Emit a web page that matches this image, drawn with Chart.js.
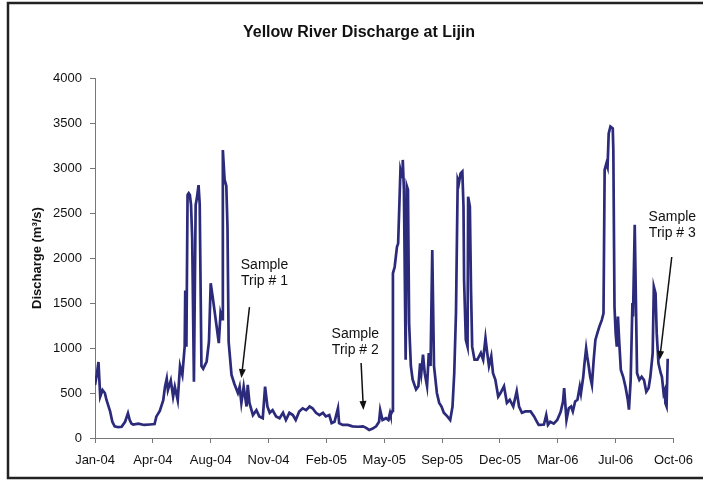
<!DOCTYPE html>
<html>
<head>
<meta charset="utf-8">
<script src="https://cdn.jsdelivr.net/npm/chart.js@4/dist/chart.umd.min.js"></script>
<style>
  html, body { margin: 0; padding: 0; background: #fff; }
  canvas { display: block; }
</style>
</head>
<body>
<canvas id="lijinChart" width="703" height="482"></canvas>
<script>
// x position in axis units (100 units between labelled ticks)
const sampleDay = [
  0, 3, 6, 9, 13, 17, 20, 26, 30, 34, 40, 46, 52, 57, 60, 63, 66, 75, 85, 95,
  103, 106, 112, 118, 121, 124, 126, 131, 135, 138, 143, 147, 151, 155, 156, 158, 160, 162, 164, 166,
  168, 171, 174, 176, 179, 181, 184, 187, 193, 197, 200, 204, 210, 214, 217, 220, 221, 224, 227, 229,
  231, 236, 241, 247, 250, 253, 257, 262, 264, 267, 273, 279, 284, 290, 294, 298, 302, 307, 313, 319,
  325, 330, 336, 342, 347, 353, 359, 365, 371, 376, 382, 388, 394, 399, 405, 409, 414, 420, 422, 428,
  437, 445, 454, 463, 468, 474, 480, 486, 491, 493, 497, 503, 507, 510, 511, 514, 515, 518, 522, 524,
  526, 528, 531, 532, 534, 537, 539, 541, 543, 546, 549, 555, 559, 562, 564, 567, 570, 574, 577, 580,
  583, 586, 591, 595, 599, 603, 609, 614, 618, 621, 624, 627, 629, 632, 635, 637, 638, 641, 644, 645,
  648, 650, 652, 656, 661, 667, 671, 675, 678, 681, 685, 688, 692, 697, 701, 707, 712, 717, 723, 729,
  733, 738, 744, 753, 759, 764, 767, 770, 776, 780, 783, 787, 793, 799, 805, 809, 811, 815, 819, 823,
  826, 830, 834, 838, 840, 844, 846, 849, 851, 853, 856, 859, 862, 865, 869, 872, 876, 879, 881, 884,
  886, 888, 891, 895, 896, 898, 900, 902, 904, 906, 909, 913, 917, 921, 923, 926, 929, 930, 933, 935,
  937, 941, 945, 949, 953, 957, 960, 964, 966, 969, 971, 974, 978, 980, 983, 985, 986, 988, 990
];

// discharge in m3/s
const discharge = [
  590, 700, 845, 460, 533, 500, 420, 300, 180, 130, 120, 125, 180, 275, 200, 160, 150, 160, 145, 150,
  155, 237, 300, 420, 570, 660, 533, 640, 460, 570, 420, 800, 700, 1015, 1640, 1015, 2700, 2720, 2700, 2590,
  2220, 625, 2590, 2660, 2810, 2600, 800, 770, 850, 1070, 1720, 1540, 1250, 1055, 1390, 1320, 3200, 2870, 2800, 2350,
  1070, 700, 600, 500, 570, 390, 570, 350, 590, 390, 255, 310, 240, 220, 570, 350, 280, 310, 240, 220,
  280, 200, 280, 255, 200, 295, 330, 310, 350, 330, 280, 255, 280, 240, 255, 165, 180, 330, 165, 145,
  145, 130, 125, 130, 115, 90, 105, 130, 180, 310, 200, 220, 200, 280, 255, 300, 1830, 1900, 2125, 2160,
  2570, 2980, 2900, 3090, 2760, 870, 2800, 2760, 1275, 800, 650, 540, 575, 830, 720, 925, 720, 575, 945, 800,
  2090, 800, 500, 390, 350, 280, 240, 200, 350, 720, 1390, 2870, 2830, 2940, 2960, 2570, 1755, 1090, 1015, 2680,
  2570, 1645, 1015, 870, 870, 945, 870, 1110, 945, 800, 910, 720, 650, 460, 500, 575, 390, 425, 350, 520,
  350, 280, 295, 295, 240, 180, 145, 145, 150, 255, 145, 180, 160, 200, 290, 405, 555, 200, 330, 350,
  295, 405, 425, 570, 495, 680, 820, 995, 900, 820, 680, 590, 865, 1090, 1180, 1240, 1310, 1385, 2980, 3050,
  3010, 3385, 3460, 3440, 3200, 1460, 1165, 1015, 1350, 1090, 755, 680, 570, 425, 315, 645, 1500, 1350, 2370, 1535,
  720, 645, 680, 645, 515, 555, 680, 940, 1680, 1605, 1165, 830, 720, 680, 495, 530, 385, 350, 880
];

const tickLabels = ['Jan-04', 'Apr-04', 'Aug-04', 'Nov-04', 'Feb-05', 'May-05', 'Sep-05', 'Dec-05', 'Mar-06', 'Jul-06', 'Oct-06'];
const yTicks = [0, 500, 1000, 1500, 2000, 2500, 3000, 3500, 4000];

// sample trip notes: text anchor and arrow from/to, in data units
const tripLabels = ['Sample Trip # 1', 'Sample Trip # 2', 'Sample Trip # 3'];
const tripTextX = [293, 450, 998];
const tripTextY = [2000, 1233, 2533];
const tripArrowFrom = [[267, 1455], [460, 833], [997, 2011]];
const tripArrowTo = [[253, 667], [464, 311], [976, 867]];

const FONT = '"Liberation Sans", Arial, sans-serif';

const pagePlugin = {
  id: 'page',
  beforeDraw(chart) {
    const ctx = chart.ctx;
    ctx.save();
    ctx.fillStyle = '#fff';
    ctx.fillRect(0, 0, chart.width, chart.height);
    ctx.restore();
  },
  afterDraw(chart) {
    const ctx = chart.ctx;
    const x = chart.scales.x;
    const y = chart.scales.y;
    ctx.save();

    // title
    ctx.fillStyle = '#111';
    ctx.font = 'bold 16px ' + FONT;
    ctx.textAlign = 'center';
    ctx.textBaseline = 'middle';
    ctx.fillText('Yellow River Discharge at Lijin', 359, 33);

    // y axis title
    ctx.save();
    ctx.translate(37, (chart.chartArea.top + chart.chartArea.bottom) / 2);
    ctx.rotate(-Math.PI / 2);
    ctx.font = 'bold 13px ' + FONT;
    ctx.fillText('Discharge (m\u00b3/s)', 0, 0);
    ctx.restore();

    // trip notes
    ctx.font = '14px ' + FONT;
    ctx.textBaseline = 'top';
    tripLabels.forEach((label, i) => {
      const words = label.split(' ');
      const px = x.getPixelForValue(tripTextX[i]);
      const py = y.getPixelForValue(tripTextY[i]);
      ctx.fillText(words[0], px, py);
      ctx.fillText(words.slice(1).join(' '), px, py + 16);

      const x1 = x.getPixelForValue(tripArrowFrom[i][0]);
      const y1 = y.getPixelForValue(tripArrowFrom[i][1]);
      const x2 = x.getPixelForValue(tripArrowTo[i][0]);
      const y2 = y.getPixelForValue(tripArrowTo[i][1]);
      const ang = Math.atan2(y2 - y1, x2 - x1);
      ctx.strokeStyle = '#111';
      ctx.lineWidth = 1.5;
      ctx.beginPath();
      ctx.moveTo(x1, y1);
      ctx.lineTo(x2 - 6 * Math.cos(ang), y2 - 6 * Math.sin(ang));
      ctx.stroke();
      ctx.beginPath();
      ctx.moveTo(x2, y2);
      ctx.lineTo(x2 - 9 * Math.cos(ang) + 3.5 * Math.sin(ang), y2 - 9 * Math.sin(ang) - 3.5 * Math.cos(ang));
      ctx.lineTo(x2 - 9 * Math.cos(ang) - 3.5 * Math.sin(ang), y2 - 9 * Math.sin(ang) + 3.5 * Math.cos(ang));
      ctx.closePath();
      ctx.fillStyle = '#111';
      ctx.fill();
    });

    // frame
    ctx.strokeStyle = '#222';
    ctx.lineWidth = 2.5;
    ctx.strokeRect(8, 3, 700, 475);
    ctx.restore();
  }
};

new Chart(document.getElementById('lijinChart'), {
  type: 'line',
  data: {
    datasets: [{
      label: 'Discharge',
      data: sampleDay.map((d, i) => ({ x: d, y: discharge[i] })),
      borderColor: '#2c2a7a',
      borderWidth: 2.7,
      pointRadius: 0,
      tension: 0,
      fill: false,
    }],
  },
  options: {
    responsive: false,
    animation: false,
    layout: { padding: { top: 78, right: 28, left: 0, bottom: 0 } },
    plugins: {
      legend: { display: false },
      tooltip: { enabled: false },
    },
    scales: {
      x: {
        type: 'linear',
        min: 0,
        max: 1000,
        afterFit: (scale) => { scale.height = 44; },
        afterBuildTicks: (scale) => {
          scale.ticks = tickLabels.map((_, i) => ({ value: i * 100 }));
        },
        ticks: {
          autoSkip: false,
          maxRotation: 0,
          padding: 10,
          color: '#111',
          font: { family: FONT, size: 13 },
          callback: (value) => tickLabels[Math.round(value / 100)],
        },
        grid: { drawOnChartArea: false, tickLength: 5, color: '#777' },
        border: { color: '#777', width: 1 },
      },
      y: {
        min: 0,
        max: 4000,
        afterFit: (scale) => { scale.width = 95; },
        afterBuildTicks: (scale) => {
          scale.ticks = yTicks.map((v) => ({ value: v }));
        },
        ticks: {
          padding: 8,
          color: '#111',
          font: { family: FONT, size: 13 },
          callback: (value) => String(value),
        },
        grid: { drawOnChartArea: false, tickLength: 5, color: '#777' },
        border: { color: '#777', width: 1 },
      },
    },
  },
  plugins: [pagePlugin],
});
</script>
</body>
</html>
